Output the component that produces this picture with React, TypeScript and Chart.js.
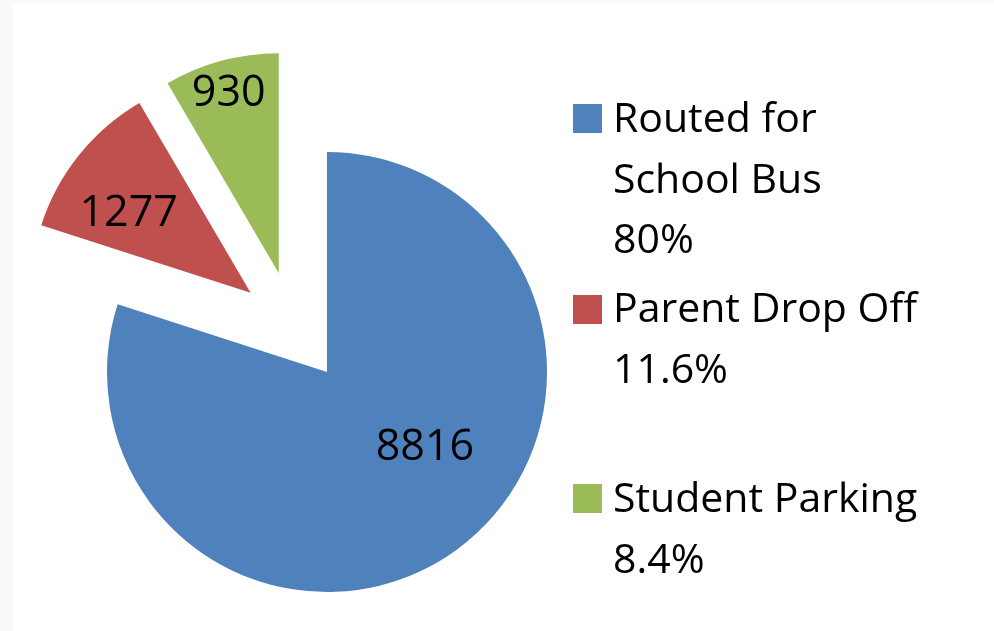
import React, { useEffect, useRef } from "react";
import { Chart, registerables } from "chart.js";

Chart.register(...registerables);

// ---- data ----
const categoryLines: string[][] = [["Routed for", "School Bus"], ["Parent Drop Off"], ["Student Parking"]];
const categories: string[] = categoryLines.map((l) => l.join(" "));
const values: number[] = [8816, 1277, 930];
const percentLabels: string[] = ["80%", "11.6%", "8.4%"];

// ---- style ----
const COLORS = ["#4F81BD", "#C0504D", "#9BBB59"];
const FONT = "'Open Sans', Lato, sans-serif";
const FONT_SIZE = 41;
const LABEL_FONT_SIZE = 43;
const RADIUS = 220;
// explosion: distance (px) and direction (deg clockwise from 12 o'clock)
const EXPLODE = [
  { dist: 0, dirDeg: 0 },
  { dist: 110, dirDeg: 316 },
  { dist: 110, dirDeg: 334 },
];
// data-label placement within each slice: fraction of sweep, fraction of radius
const LABEL_POS = [
  { t: 0.44, r: 0.555 },
  { t: 0.39, r: 0.67 },
  { t: 0.495, r: 0.86 },
];
const LEGEND_TOPS = [86, 276, 466];
const SWATCH_TOPS = [104, 295, 484];

const explodePlugin = {
  id: "explode",
  afterDatasetUpdate(chart: any, args: any) {
    const meta = chart.getDatasetMeta(args.index);
    meta.data.forEach((arc: any, i: number) => {
      const e = EXPLODE[i];
      if (!e || !e.dist) return;
      const a = ((e.dirDeg - 90) * Math.PI) / 180;
      arc.x += Math.cos(a) * e.dist;
      arc.y += Math.sin(a) * e.dist;
    });
  },
};

const labelPlugin = {
  id: "sliceLabels",
  afterDatasetsDraw(chart: any) {
    const meta = chart.getDatasetMeta(0);
    const ctx = chart.ctx;
    ctx.save();
    ctx.font = `${LABEL_FONT_SIZE}px ${FONT}`;
    ctx.fillStyle = "#000";
    ctx.textAlign = "center";
    ctx.textBaseline = "alphabetic";
    meta.data.forEach((arc: any, i: number) => {
      const { x, y, startAngle, endAngle, outerRadius } = arc;
      const p = LABEL_POS[i];
      const a = startAngle + p.t * (endAngle - startAngle);
      const r = p.r * outerRadius;
      ctx.fillText(String(values[i]), x + Math.cos(a) * r, y + Math.sin(a) * r + LABEL_FONT_SIZE * 0.36);
    });
    ctx.restore();
  },
};

export default function App() {
  const canvasRef = useRef<HTMLCanvasElement | null>(null);

  useEffect(() => {
    if (!canvasRef.current) return;
    const chart = new Chart(canvasRef.current, {
      type: "pie",
      data: {
        labels: categories,
        datasets: [
          {
            data: values,
            backgroundColor: COLORS,
            borderWidth: 0,
          },
        ],
      },
      options: {
        responsive: false,
        animation: false,
        radius: RADIUS,
        layout: { padding: { left: 0, right: 340, top: 113, bottom: 0 } },
        plugins: {
          legend: { display: false },
          tooltip: { enabled: false },
        },
      } as any,
      plugins: [explodePlugin, labelPlugin],
    });
    return () => chart.destroy();
  }, []);

  return (
    <div
      style={{
        position: "fixed",
        left: 0,
        top: 0,
        width: 994,
        height: 631,
        background: "#f9f9f9",
        overflow: "hidden",
      }}
    >
      <div style={{ position: "absolute", left: 13, top: 3, right: 0, bottom: 0, background: "#ffffff" }} />
      <canvas ref={canvasRef} width={994} height={631} style={{ position: "absolute", left: 0, top: 0 }} />
      {categories.map((c, i) => (
        <React.Fragment key={c}>
          <div
            style={{
              position: "absolute",
              left: 573,
              top: SWATCH_TOPS[i],
              width: 29,
              height: 29,
              background: COLORS[i],
            }}
          />
          <div
            style={{
              position: "absolute",
              left: 613,
              top: LEGEND_TOPS[i],
              fontFamily: FONT,
              fontSize: FONT_SIZE,
              lineHeight: "60.5px",
              color: "#000",
              whiteSpace: "nowrap",
            }}
          >
            {categoryLines[i].map((line) => (
              <div key={line}>{line}</div>
            ))}
            <div>{percentLabels[i]}</div>
          </div>
        </React.Fragment>
      ))}
    </div>
  );
}
